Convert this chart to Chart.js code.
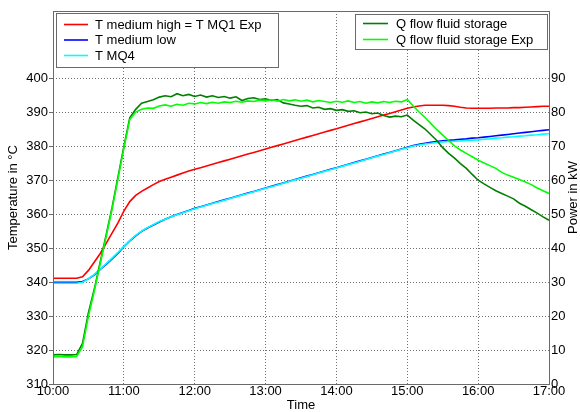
<!DOCTYPE html>
<html><head><meta charset="utf-8">
<script src="https://cdn.jsdelivr.net/npm/chart.js@4.4.0/dist/chart.umd.min.js"></script>
<style>html,body{margin:0;padding:0;background:#fff;}</style>
</head><body>
<canvas id="c" width="580" height="412"></canvas>
<script>
// ---------- DATA ----------
const minutes = [0,5,10,15,20,25,30,35,40,45,50,55,60,65,70,75,80,85,90,95,100,105,110,115,120,
125,130,135,140,145,150,155,160,165,170,175,180,185,190,195,200,205,210,215,220,225,230,235,240,
245,250,255,260,265,270,275,280,285,290,295,300,305,310,315,320,325,330,335,340,345,350,355,360,
365,370,375,380,385,390,395,400,405,410,415,420];
const hourTicks = [0,60,120,180,240,300,360,420];
const timeLabels = ['10:00','11:00','12:00','13:00','14:00','15:00','16:00','17:00'];
const tempTicks = [310,320,330,340,350,360,370,380,390,400];
const powerTicks = [0,10,20,30,40,50,60,70,80,90];

const tHigh = [341.2,341.2,341.2,341.2,341.2,341.6,343.5,346.0,348.5,351.5,354.5,357.5,361.0,363.8,365.6,
366.8,367.8,368.8,369.7,370.4,371.0,371.6,372.2,372.8,373.3,373.8,374.3,374.8,375.3,375.8,
376.3,376.8,377.3,377.8,378.3,378.8,379.3,379.8,380.3,380.8,381.3,381.8,382.3,382.8,383.3,
383.8,384.3,384.8,385.3,385.8,386.3,386.8,387.3,387.8,388.3,388.8,389.3,389.8,390.3,390.8,
391.3,391.7,392.0,392.2,392.2,392.2,392.2,392.1,391.9,391.6,391.4,391.3,391.3,391.3,391.3,
391.4,391.4,391.4,391.5,391.5,391.6,391.7,391.8,391.9,391.9];
const tLow = [340.0,340.0,340.0,340.0,340.0,340.2,341.0,342.2,343.8,345.3,346.9,348.6,350.5,352.2,353.7,
355.0,356.0,356.9,357.8,358.6,359.3,360.0,360.6,361.2,361.8,362.3,362.8,363.3,363.8,364.3,
364.8,365.3,365.8,366.3,366.8,367.3,367.8,368.3,368.8,369.3,369.8,370.3,370.8,371.3,371.8,
372.3,372.8,373.3,373.8,374.3,374.8,375.3,375.8,376.3,376.8,377.3,377.8,378.3,378.8,379.3,
379.8,380.3,380.7,381.0,381.3,381.5,381.7,381.9,382.0,382.2,382.3,382.5,382.6,382.8,383.0,
383.2,383.4,383.6,383.8,384.0,384.2,384.4,384.6,384.8,385.0];
const tMQ4 = [339.7,339.7,339.7,339.7,339.7,340.0,341.0,342.3,343.9,345.5,347.1,348.8,350.6,352.3,353.8,
355.1,356.1,357.0,357.9,358.6,359.3,359.9,360.5,361.1,361.7,362.2,362.7,363.2,363.7,364.2,
364.7,365.2,365.7,366.2,366.7,367.2,367.7,368.2,368.7,369.2,369.7,370.2,370.7,371.2,371.7,
372.2,372.7,373.2,373.7,374.2,374.7,375.2,375.7,376.2,376.7,377.2,377.7,378.2,378.7,379.2,
379.7,380.2,380.5,380.8,381.0,381.2,381.4,381.5,381.6,381.7,381.8,381.9,382.0,382.2,382.3,
382.5,382.6,382.8,382.9,383.1,383.2,383.4,383.5,383.7,383.8];
const qFlow = [8.6,8.7,8.6,8.6,8.7,12.0,21.0,28.0,36.0,44.0,52.0,61.0,70.0,78.5,81.0,
82.8,83.3,83.8,84.6,85.0,84.7,85.6,85.0,85.4,84.8,85.2,84.6,85.0,84.5,84.8,
84.3,84.7,83.6,84.2,84.4,83.9,84.1,83.6,83.9,82.9,82.6,82.2,81.9,82.1,81.4,
81.6,81.0,81.2,80.7,80.9,80.4,80.6,80.0,80.2,79.7,79.9,79.2,78.7,79.0,78.8,
79.3,77.8,76.5,75.2,73.5,71.8,69.7,68.0,66.6,65.0,63.6,61.8,60.1,59.0,58.0,
57.0,56.2,55.4,54.6,53.3,52.4,51.4,50.4,49.3,48.3];
const qFlowExp = [8.0,8.1,8.0,8.0,8.1,11.0,20.0,27.5,35.5,43.5,51.5,60.5,69.5,78.0,80.2,
81.0,81.4,81.3,82.0,82.3,81.9,82.5,82.2,82.8,82.6,83.0,82.7,83.1,82.8,83.2,
83.0,83.4,83.1,83.5,83.3,83.7,83.5,83.8,83.4,83.9,83.5,83.8,83.4,83.7,83.2,
83.6,83.3,83.0,83.4,83.1,83.5,83.0,83.3,82.8,83.2,82.9,83.3,83.0,83.4,83.2,
83.9,82.0,80.2,78.6,76.8,75.0,73.4,71.8,70.2,69.0,68.0,67.0,66.0,65.2,64.4,
63.6,62.4,61.6,61.0,60.3,59.6,58.8,57.8,57.0,56.2];

const pts = arr => arr.map((v, i) => ({x: minutes[i], y: v}));

// ---------- DECORATION PLUGIN ----------
const FONT = '13px "Liberation Sans", Arial, sans-serif';
function drawLegend(ctx, chart, box, idxs) {
  ctx.save();
  ctx.fillStyle = '#fff';
  ctx.fillRect(box.x, box.y, box.w, box.h);
  ctx.strokeStyle = '#6a6a6a';
  ctx.lineWidth = 1;
  ctx.strokeRect(box.x + 0.5, box.y + 0.5, box.w, box.h);
  ctx.font = FONT;
  ctx.textBaseline = 'middle';
  ctx.textAlign = 'left';
  idxs.forEach((di, k) => {
    const ds = chart.data.datasets[di];
    const y = box.rows[k];
    ctx.strokeStyle = ds.borderColor;
    ctx.lineWidth = 1.6;
    ctx.beginPath();
    ctx.moveTo(box.l1, y); ctx.lineTo(box.l2, y);
    ctx.stroke();
    ctx.fillStyle = '#000';
    ctx.fillText(ds.label, box.tx, y + 0.5);
  });
  ctx.restore();
}
const decor = {
  id: 'decor',
  afterDatasetsDraw(chart) {
    const ctx = chart.ctx, a = chart.chartArea;
    drawLegend(ctx, chart, {x:56, y:13, w:222, h:54, rows:[24.5,40,55.5], l1:64, l2:88, tx:95}, [0,1,2]);
    drawLegend(ctx, chart, {x:355, y:14, w:192, h:35, rows:[23.5,39.5], l1:363, l2:388, tx:396}, [3,4]);
  },
  afterDraw(chart) {
    const ctx = chart.ctx, a = chart.chartArea;
    ctx.save();
    ctx.strokeStyle = '#6a6a6a';
    ctx.lineWidth = 1;
    ctx.strokeRect(Math.round(a.left) + 0.5, Math.round(a.top) + 0.5,
                   Math.round(a.right - a.left), Math.round(a.bottom - a.top));
    ctx.fillStyle = '#000';
    ctx.font = FONT;
    ctx.textAlign = 'center';
    ctx.textBaseline = 'middle';
    ctx.fillText('Time', (a.left + a.right) / 2, 405);
    const mid = (a.top + a.bottom) / 2;
    ctx.save(); ctx.translate(13, mid); ctx.rotate(-Math.PI / 2);
    ctx.fillText('Temperature in °C', 0, 0); ctx.restore();
    ctx.save(); ctx.translate(573, mid); ctx.rotate(-Math.PI / 2);
    ctx.fillText('Power in kW', 0, 0); ctx.restore();
    ctx.restore();
  }
};

Chart.defaults.font.family = '"Liberation Sans", Arial, sans-serif';
Chart.defaults.font.size = 13;
Chart.defaults.color = '#000';

const lineDs = (label, data, color, axis, order) => ({
  label, data: pts(data), borderColor: color, backgroundColor: color,
  borderWidth: 1.6, pointRadius: 0, tension: 0, fill: false, yAxisID: axis, order
});

new Chart(document.getElementById('c'), {
  type: 'line',
  data: {
    datasets: [
      lineDs('T medium high = T MQ1 Exp', tHigh, '#ff0000', 'y', 4),
      lineDs('T medium low', tLow, '#0000ff', 'y', 3),
      lineDs('T MQ4', tMQ4, '#00ffff', 'y', 2),
      lineDs('Q flow fluid storage', qFlow, '#008000', 'y1', 1),
      lineDs('Q flow fluid storage Exp', qFlowExp, '#00ff00', 'y1', 0)
    ]
  },
  options: {
    responsive: false,
    devicePixelRatio: 1,
    animation: false,
    layout: {padding: {top: 11, left: 0, right: 0, bottom: 0}},
    plugins: {legend: {display: false}, tooltip: {enabled: false}},
    scales: {
      x: {
        type: 'linear', min: 0, max: 420,
        afterBuildTicks: s => { s.ticks = hourTicks.map(v => ({value: v})); },
        afterFit: s => { s.height = 28; },
        ticks: {callback: (v, i) => timeLabels[i], padding: 0, maxRotation: 0, autoSkip: false},
        grid: {color: '#707070', lineWidth: 1, drawTicks: false},
        border: {display: false, dash: [1, 2]}
      },
      y: {
        position: 'left', min: 310, max: 420,
        afterBuildTicks: s => { s.ticks = tempTicks.map(v => ({value: v})); },
        afterFit: s => { s.width = 53; },
        ticks: {callback: v => String(v), padding: 1},
        grid: {color: '#707070', lineWidth: 1, drawTicks: true, tickLength: 4, tickColor: '#6a6a6a'},
        border: {display: false, dash: [1, 2]}
      },
      y1: {
        position: 'right', min: 0, max: 110,
        afterBuildTicks: s => { s.ticks = powerTicks.map(v => ({value: v})); },
        afterFit: s => { s.width = 31; },
        ticks: {callback: v => String(v), padding: 2},
        grid: {display: false, drawTicks: false, drawOnChartArea: false},
        border: {display: false}
      }
    }
  },
  plugins: [decor]
});
</script>
</body></html>
